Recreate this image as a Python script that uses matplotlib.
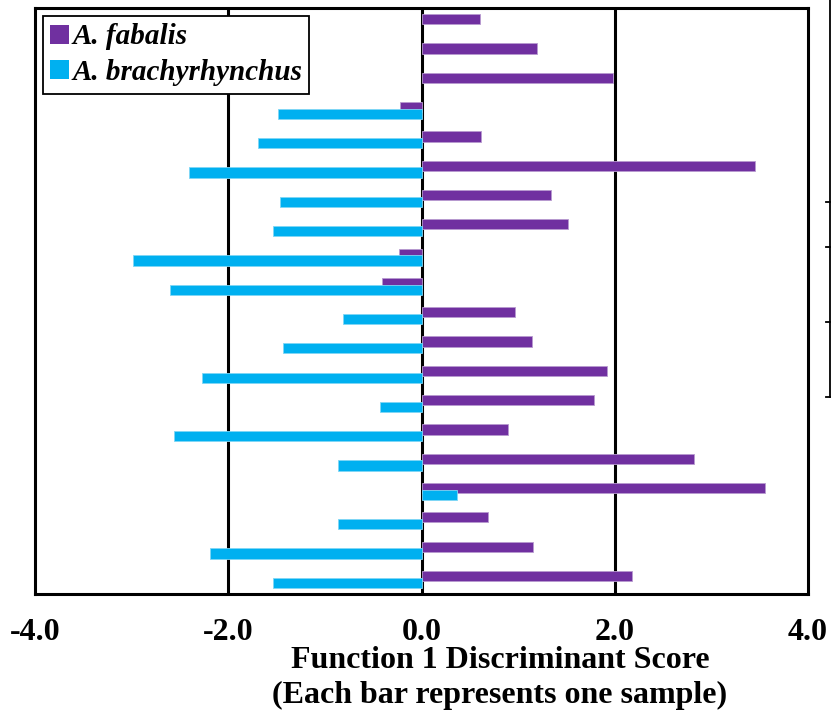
import numpy as np
import matplotlib.pyplot as plt
from matplotlib.patches import Patch
from matplotlib.lines import Line2D

# discriminant scores, one bar per sample (top to bottom)
fabalis = [0.61, 1.20, 1.98, -0.22, 0.62, 3.45, 1.34, 1.52, -0.23, -0.41,
           0.97, 1.14, 1.92, 1.79, 0.90, 2.82, 3.55, 0.69, 1.15, 2.18]
brachy = [np.nan, np.nan, np.nan, -1.49, -1.69, -2.41, -1.46, -1.54, -2.99, -2.60,
          -0.81, -1.43, -2.27, -0.43, -2.56, -0.86, 0.37, -0.86, -2.19, -1.54]
xticks = [-4, -2, 0, 2, 4]
xticklabels = ["-4.0", "-2.0", "0.0", "2.0", "4.0"]

purple = "#7030A0"
blue = "#00B0F0"
serif = "Liberation Serif"

fig = plt.figure(figsize=(8.32, 7.17), dpi=100)
ax = fig.add_axes([35 / 832, 1 - 594 / 717, 773 / 832, 586 / 717])

y = np.arange(len(fabalis))
h = 0.35
off = 0.116
ax.barh(y - off, fabalis, height=h, color=purple, edgecolor="#b89ad0", linewidth=0.6, zorder=3)
ax.barh(y + off, brachy, height=h, color=blue, edgecolor="#7fd6f5", linewidth=0.6, zorder=4)

for xv in [-2, 0, 2]:
    ax.axvline(xv, color="black", lw=2.2, zorder=2)

ax.set_xlim(-4, 4)
ax.set_ylim(len(fabalis) - 0.5, -0.5)
ax.set_yticks([])
ax.set_xticks(xticks)
ax.set_xticklabels(xticklabels, fontfamily=serif, fontweight="bold", fontsize=23)
ax.tick_params(axis="x", length=0, pad=17)
for s in ax.spines.values():
    s.set_linewidth(2.2)
    s.set_zorder(6)

handles = [Patch(facecolor=purple, label="A. fabalis"),
           Patch(facecolor=blue, label="A. brachyrhynchus")]
leg = ax.legend(handles=handles, loc="upper left", fancybox=False, framealpha=1,
                edgecolor="black", borderaxespad=0.28, handlelength=0.62, handleheight=0.62,
                handletextpad=0.12, borderpad=0.25, labelspacing=0.3,
                prop={"family": serif, "weight": "bold", "style": "italic", "size": 21})
leg.get_frame().set_linewidth(1.3)
leg.set_zorder(10)

fig.text(500 / 832, 1 - 660 / 717, "Function 1 Discriminant Score", ha="center", va="center",
         fontfamily=serif, fontweight="bold", fontsize=23)
fig.text(500 / 832, 1 - 695 / 717, "(Each bar represents one sample)", ha="center", va="center",
         fontfamily=serif, fontweight="bold", fontsize=23)

# edge of the neighbouring chart, cut off at the right border
W, H = 832, 717
fig.add_artist(Line2D([830 / W, 830 / W], [1, 1 - 397 / H], color="black", lw=1.3,
                      transform=fig.transFigure))
for ty in [202, 247, 322, 397]:
    fig.add_artist(Line2D([826 / W, 830 / W], [1 - ty / H, 1 - ty / H], color="black", lw=1.3,
                          transform=fig.transFigure))

fig.savefig("out.png", dpi=100)
